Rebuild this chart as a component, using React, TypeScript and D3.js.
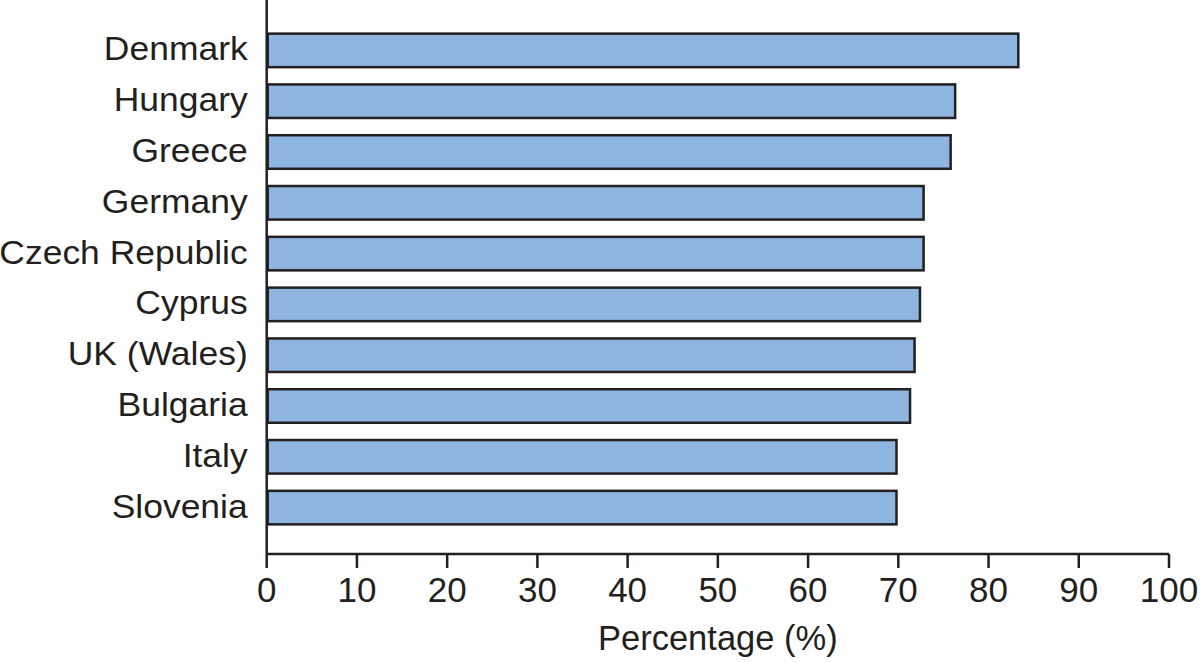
import React from "react";
import * as d3 from "d3";

const countries = [
  "Denmark",
  "Hungary",
  "Greece",
  "Germany",
  "Czech Republic",
  "Cyprus",
  "UK (Wales)",
  "Bulgaria",
  "Italy",
  "Slovenia",
];
const values = [83.3, 76.3, 75.8, 72.8, 72.8, 72.4, 71.8, 71.3, 69.8, 69.8];
const xTicks = [0, 10, 20, 30, 40, 50, 60, 70, 80, 90, 100];
const xTitle = "Percentage (%)";

const W = 1200;
const H = 662;
const textColor = "#231f20";
const barFill = "#8eb5df";
const font = "'Liberation Sans', Arial, Helvetica, sans-serif";

export default function App() {
  const x = d3.scaleLinear().domain([0, 100]).range([266.7, 1169]);
  const y = d3.scaleBand<string>().domain(countries).range([25, 533]).paddingInner(0.34).paddingOuter(0.17);
  const axisY = 554;
  const data = countries.map((c, i) => ({ c, v: values[i] }));

  return (
    <svg
      width={W}
      height={H}
      style={{ position: "absolute", left: 0, top: 0, background: "#fff" }}
      fontFamily={font}
    >
      {data.map((d) => (
        <rect
          key={d.c}
          x={x(0) + 1}
          y={y(d.c)!}
          width={x(d.v) - x(0) - 1}
          height={y.bandwidth()}
          fill={barFill}
          stroke={textColor}
          strokeWidth={2.5}
        />
      ))}
      {/* y axis */}
      <line x1={x(0)} x2={x(0)} y1={0} y2={axisY} stroke={textColor} strokeWidth={2.5} />
      {countries.map((c) => (
        <text
          key={c}
          transform={`translate(${x(0) - 19},${y(c)! + y.bandwidth() / 2 + 10}) scale(1.075,1)`}
          textAnchor="end"
          fontSize={33}
          fill={textColor}
        >
          {c}
        </text>
      ))}
      {/* x axis */}
      <line x1={x(0)} x2={x(100)} y1={axisY} y2={axisY} stroke={textColor} strokeWidth={2.5} />
      {xTicks.map((t) => (
        <g key={t} transform={`translate(${x(t)},0)`}>
          <line y1={axisY} y2={axisY + 14} stroke={textColor} strokeWidth={2.5} />
          <text y={602} textAnchor="middle" fontSize={35} fill={textColor}>
            {t}
          </text>
        </g>
      ))}
      <text x={(x(0) + x(100)) / 2} y={649.5} textAnchor="middle" fontSize={34.5} fill={textColor}>
        {xTitle}
      </text>
    </svg>
  );
}
